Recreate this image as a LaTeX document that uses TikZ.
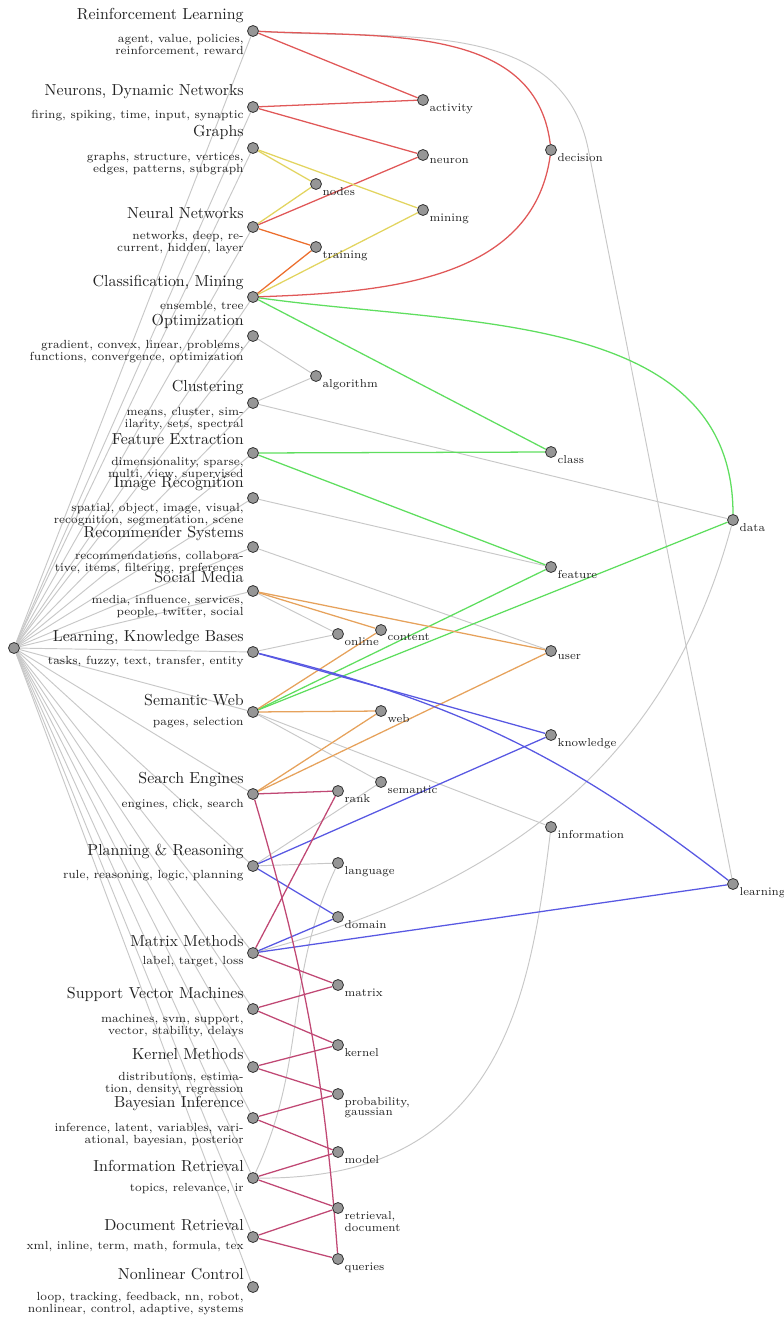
\documentclass[tikz,border=0pt]{standalone}
\usetikzlibrary{backgrounds}
\definecolor{cred}{RGB}{224,88,88}
\definecolor{cyel}{RGB}{226,212,95}
\definecolor{corr}{RGB}{236,110,45}
\definecolor{cgrn}{RGB}{95,222,95}
\definecolor{cgry}{RGB}{200,200,200}
\definecolor{cblu}{RGB}{88,88,226}
\definecolor{ccri}{RGB}{192,72,116}
\definecolor{corg}{RGB}{230,162,92}
\definecolor{cdot}{RGB}{150,150,150}
\definecolor{ctxt}{RGB}{35,35,35}
\newcommand\mytopic[6]{%
  \node[dot] (#1) at (253,#2) {};
  \node[ttl] (#1-t) at (244,{#3+4.5}) {#5};
  \node[dsc] (#1-d) at (244,{#4-5.4}) {#6};
}
\newcommand\myword[4]{%
  \node[dot] (#1) at (#2,#3) {};
  \node[wl] (#1-l) at ({#2+6.3},{#3+3.2}) {#4};
}
\begin{document}
\begin{tikzpicture}[x=0.628pt,y=-0.628pt,
  dot/.style={circle,draw=black!80,fill=cdot,line width=0.5pt,minimum size=6.9pt,inner sep=0pt},
  ttl/.style={anchor=base east,inner sep=0pt,font=\fontsize{10}{12}\selectfont,text=ctxt},
  dsc/.style={anchor=north east,align=right,inner sep=0pt,font=\fontsize{7.4}{6.3}\selectfont,text=ctxt},
  wl/.style={anchor=north west,align=left,inner sep=0pt,font=\fontsize{7.2}{6.3}\selectfont,text=ctxt},
  eg/.style={draw=cgry,line width=0.6pt},
  er/.style={draw=cred,line width=0.8pt},
  ey/.style={draw=cyel,line width=0.8pt},
  eo/.style={draw=corr,line width=0.8pt},
  en/.style={draw=cgrn,line width=0.8pt},
  eb/.style={draw=cblu,line width=0.8pt},
  ec/.style={draw=ccri,line width=0.8pt},
  ea/.style={draw=corg,line width=0.8pt}]
\useasboundingbox (0,0) rectangle (783,1317);

\node[dot] (hub) at (14,648) {};

\mytopic{RL}{31}{15.3}{39}{Reinforcement Learning}{agent, value, policies,\\reinforcement, reward}
\mytopic{NDN}{107}{91}{115}{Neurons, Dynamic Networks}{firing, spiking, time, input, synaptic}
\mytopic{GR}{148}{132.5}{157}{Graphs}{graphs, structure, vertices,\\edges, patterns, subgraph}
\mytopic{NN}{227}{214}{236.7}{Neural Networks}{networks, deep, re-\\current, hidden, layer}
\mytopic{CM}{297}{281.7}{306}{Classification, Mining}{ensemble, tree}
\mytopic{OP}{336}{320.7}{345}{Optimization}{gradient, convex, linear, problems,\\functions, convergence, optimization}
\mytopic{CL}{403}{387}{412}{Clustering}{means, cluster, sim-\\ilarity, sets, spectral}
\mytopic{FE}{453}{440}{462.7}{Feature Extraction}{dimensionality, sparse,\\multi, view, supervised}
\mytopic{IMG}{498}{483}{508.3}{Image Recognition}{spatial, object, image, visual,\\recognition, segmentation, scene}
\mytopic{RS}{547}{532.7}{556}{Recommender Systems}{recommendations, collabora-\\tive, items, filtering, preferences}
\mytopic{SM}{591}{578}{600}{Social Media}{media, influence, services,\\people, twitter, social}
\mytopic{LKB}{652}{637}{661.7}{Learning, Knowledge Bases}{tasks, fuzzy, text, transfer, entity}
\mytopic{SW}{712}{700.7}{722}{Semantic Web}{pages, selection}
\mytopic{SE}{794}{779}{804}{Search Engines}{engines, click, search}
\mytopic{PR}{866}{851}{875}{Planning \& Reasoning}{rule, reasoning, logic, planning}
\mytopic{MM}{953}{941.7}{961.7}{Matrix Methods}{label, target, loss}
\mytopic{SVM}{1009}{994}{1019}{Support Vector Machines}{machines, svm, support,\\vector, stability, delays}
\mytopic{KM}{1067}{1055}{1077}{Kernel Methods}{distributions, estima-\\tion, density, regression}
\mytopic{BI}{1118}{1103}{1128.3}{Bayesian Inference}{inference, latent, variables, vari-\\ational, bayesian, posterior}
\mytopic{INR}{1178}{1166.7}{1188}{Information Retrieval}{topics, relevance, ir}
\mytopic{DR}{1237}{1226}{1246.7}{Document Retrieval}{xml, inline, term, math, formula, tex}
\mytopic{NC}{1287}{1275}{1297}{Nonlinear Control}{loop, tracking, feedback, nn, robot,\\nonlinear, control, adaptive, systems}

\myword{activity}{423}{100}{activity}
\myword{neuron}{423}{155}{neuron}
\myword{decision}{551}{150}{decision}
\myword{nodes}{316}{184}{nodes}
\myword{mining}{423}{210}{mining}
\myword{training}{316}{247}{training}
\myword{algorithm}{316}{376}{algorithm}
\myword{class}{551}{452}{class}
\myword{data}{733}{520}{data}
\myword{feature}{551}{567}{feature}
\myword{online}{338}{634}{online}
\myword{content}{381}{630}{content}
\myword{user}{551}{651}{user}
\myword{web}{381}{711}{web}
\myword{knowledge}{551}{735}{knowledge}
\myword{semantic}{381}{782}{semantic}
\myword{rank}{338}{791}{rank}
\myword{information}{551}{827}{information}
\myword{learning}{733}{884}{learning}
\myword{language}{338}{863}{language}
\myword{domain}{338}{917}{domain}
\myword{matrix}{338}{985}{matrix}
\myword{kernel}{338}{1045}{kernel}
\myword{probability}{338}{1094}{probability,\\gaussian}
\myword{model}{338}{1152}{model}
\myword{retrieval}{338}{1208}{retrieval,\\document}
\myword{queries}{338}{1259}{queries}

\coordinate (rlbend) at (588,148);
\coordinate (irc1) at (500,1180);
\coordinate (irc2) at (530,1000);

\begin{scope}[on background layer]
  \foreach \t in {RL,NDN,GR,NN,CM,OP,CL,FE,IMG,RS,SM,LKB,SW,SE,PR,MM,SVM,KM,BI,INR,DR,NC}
    \draw[eg] (hub) -- (\t);
  % gray
  \draw[eg] (RL) to[out=-4,in=102] (rlbend) -- (learning);
  \draw[eg] (OP) -- (algorithm);
  \draw[eg] (CL) -- (algorithm);
  \draw[eg] (CL) -- (data);
  \draw[eg] (IMG) -- (feature);
  \draw[eg] (RS) -- (user);
  \draw[eg] (SM) -- (online);
  \draw[eg] (LKB) -- (online);
  \draw[eg] (SW) -- (semantic);
  \draw[eg] (SW) -- (information);
  \draw[eg] (PR) -- (semantic);
  \draw[eg] (PR) -- (language);
  \draw[eg] (MM) to[out=15,in=-105] (data);
  \draw[eg] (INR) .. controls (irc1) and (irc2) .. (information);
  \draw[eg] (INR) to[out=65,in=-115] (language);
  % red
  \draw[er] (RL) -- (activity);
  \draw[er] (RL) to[out=-3,in=97] (decision);
  \draw[er] (NDN) -- (activity);
  \draw[er] (NDN) -- (neuron);
  \draw[er] (NN) -- (neuron);
  \draw[er] (CM) to[out=2,in=-98] (decision);
  % yellow
  \draw[ey] (GR) -- (nodes);
  \draw[ey] (GR) -- (mining);
  \draw[ey] (NN) -- (nodes);
  \draw[ey] (CM) -- (mining);
  % orange-red
  \draw[eo] (NN) -- (training);
  \draw[eo] (CM) -- (training);
  % green
  \draw[en] (CM) -- (class);
  \draw[en] (CM) to[out=-8,in=90] (data);
  \draw[en] (FE) -- (class);
  \draw[en] (FE) -- (feature);
  \draw[en] (SW) -- (feature);
  \draw[en] (SW) -- (data);
  % orange
  \draw[ea] (SM) -- (content);
  \draw[ea] (SM) -- (user);
  \draw[ea] (SW) -- (content);
  \draw[ea] (SW) -- (web);
  \draw[ea] (SE) -- (web);
  \draw[ea] (SE) -- (user);
  % blue
  \draw[eb] (LKB) -- (knowledge);
  \draw[eb] (LKB) to[bend left=12] (learning);
  \draw[eb] (PR) -- (knowledge);
  \draw[eb] (PR) -- (domain);
  \draw[eb] (MM) -- (domain);
  \draw[eb] (MM) -- (learning);
  % crimson
  \draw[ec] (SE) -- (rank);
  \draw[ec] (SE) to[bend left=6] (queries);
  \draw[ec] (MM) -- (rank);
  \draw[ec] (MM) -- (matrix);
  \draw[ec] (SVM) -- (matrix);
  \draw[ec] (SVM) -- (kernel);
  \draw[ec] (KM) -- (kernel);
  \draw[ec] (KM) -- (probability);
  \draw[ec] (BI) -- (probability);
  \draw[ec] (BI) -- (model);
  \draw[ec] (INR) -- (model);
  \draw[ec] (INR) -- (retrieval);
  \draw[ec] (DR) -- (retrieval);
  \draw[ec] (DR) -- (queries);
\end{scope}
\end{tikzpicture}
\end{document}
